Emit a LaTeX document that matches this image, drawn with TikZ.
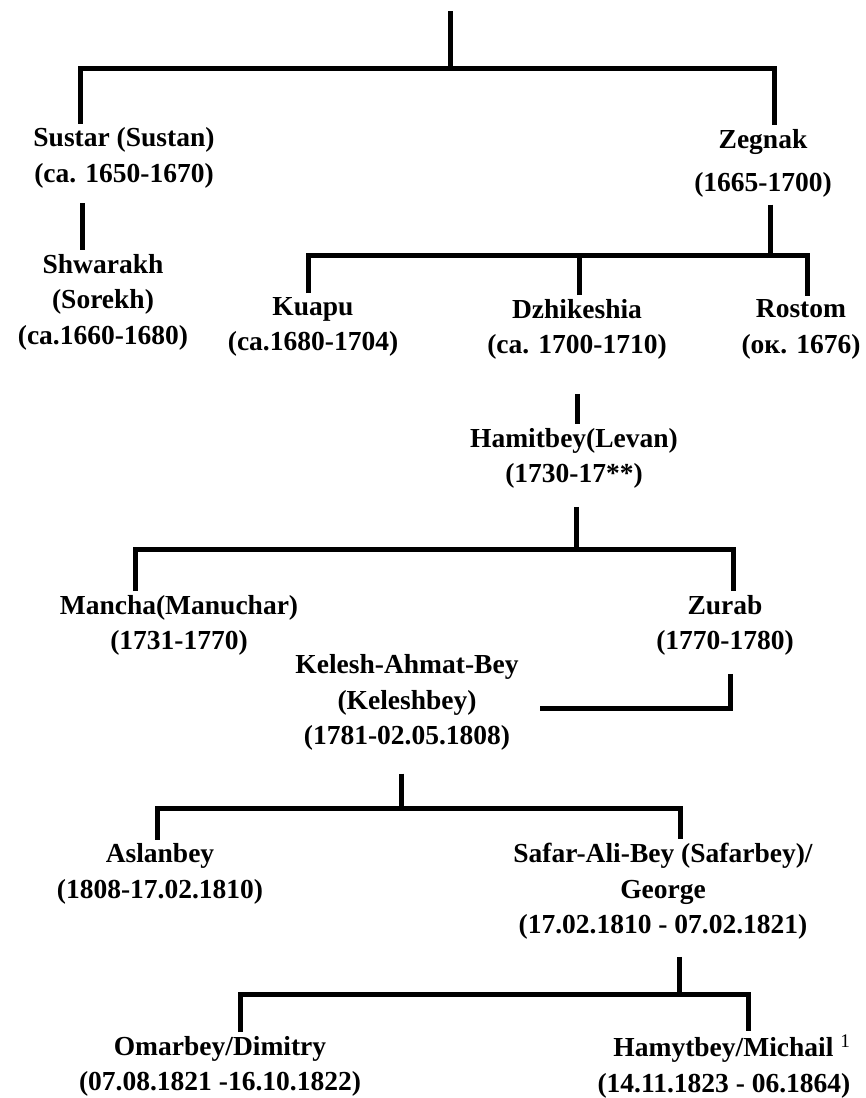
\documentclass[tikz,border=0pt]{standalone}
\usepackage{fontspec}
\setmainfont{Liberation Serif}
\usepackage{tikz}

\tikzset{
	person/.style={align=center, inner sep=4pt, font=\bfseries\fontsize{27.5pt}{35.5pt}\selectfont},
	bar/.style={line width=5pt, line cap=butt, line join=miter}
}

\begin{document}
\begin{tikzpicture}[x=1pt,y=-1pt]
	\useasboundingbox (0,0) rectangle (866,1098);

	\node[person] (sustar) at (124,158) {Sustar (Sustan)\\(ca. 1650-1670)};
	\node[person] (zegnak) at (763,163.5) {Zegnak\\[7.5pt](1665-1700)};
	\node[person] (shwarakh) at (103,302) {Shwarakh\\(Sorekh)\\(ca.1660-1680)};
	\node[person] (kuapu) at (313,327) {Kuapu\\(ca.1680-1704)};
	\node[person] (dzhikeshia) at (577,329.5) {Dzhikeshia\\(ca. 1700-1710)};
	\node[person] (rostom) at (801,329.5) {Rostom\\(ок. 1676)};
	\node[person] (hamitbey) at (574,458.5) {Hamitbey(Levan)\\(1730-17**)};
	\node[person] (mancha) at (179,625.5) {Mancha(Manuchar)\\(1731-1770)};
	\node[person] (zurab) at (725,625.5) {Zurab\\(1770-1780)};
	\node[person] (kelesh) at (407,702.5) {Kelesh-Ahmat-Bey\\(Keleshbey)\\(1781-02.05.1808)};
	\node[person] (aslanbey) at (160,874) {Aslanbey\\(1808-17.02.1810)};
	\node[person] (safar) at (663,891.5) {Safar-Ali-Bey (Safarbey)/\\George\\(17.02.1810 - 07.02.1821)};
	\node[person] (omarbey) at (220,1066.5) {Omarbey/Dimitry\\(07.08.1821 -16.10.1822)};
	\node[person, align=right] (hamytbey) at (724,1066.5) {Hamytbey/Michail \textsuperscript{\mdseries 1}\\(14.11.1823 - 06.1864)};

	\coordinate (root) at (450,11);
	\coordinate (bar1) at (450,68);
	\coordinate (bar2) at (770,255);
	\coordinate (bar3) at (576,549);
	\coordinate (bar4) at (401,808);
	\coordinate (bar5) at (679,994);

	\draw[bar] (root) -- (bar1);
	\draw[bar] ([xshift=-44pt]sustar.north) |- (bar1) -| ([xshift=11pt]zegnak.north);
	\draw[bar, shorten <=11pt] ([xshift=-42pt]sustar.south) -- ([xshift=-42pt]sustar.south |- shwarakh.north);

	\draw[bar, shorten <=3pt] (zegnak.south -| bar2) -- (bar2);
	\draw[bar] ([xshift=-5pt]kuapu.north) |- (bar2) -| ([xshift=6pt]rostom.north);
	\draw[bar] ([xshift=2pt]dzhikeshia.north) -- ([xshift=2pt]dzhikeshia.north |- bar2);
	\draw[bar, shorten <=30pt] (dzhikeshia.south) -- (dzhikeshia.south |- hamitbey.north);

	\draw[bar, shorten <=14pt] (hamitbey.south -| bar3) -- (bar3);
	\draw[bar] ([xshift=-44pt]mancha.north) |- (bar3) -| ([xshift=8pt]zurab.north);
	\draw[bar, shorten <=14pt] ([xshift=5pt]zurab.south) |- ([xshift=17pt,yshift=-6pt]kelesh.east);

	\draw[bar, shorten <=19pt] (kelesh.south -| bar4) -- (bar4);
	\draw[bar] ([xshift=-3pt]aslanbey.north) |- (bar4) -| ([xshift=17pt]safar.north);

	\draw[bar, shorten <=13pt] (safar.south -| bar5) -- (bar5);
	\draw[bar] ([xshift=20pt]omarbey.north) |- (bar5) -| ([xshift=24pt]hamytbey.north);
\end{tikzpicture}
\end{document}
